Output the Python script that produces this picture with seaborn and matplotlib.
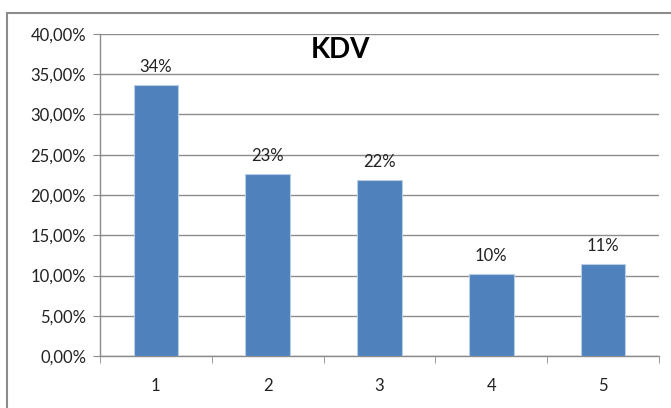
import matplotlib
matplotlib.use("Agg")
import matplotlib.pyplot as plt
import seaborn as sns
import pandas as pd
from matplotlib.lines import Line2D
from matplotlib.ticker import FuncFormatter, MultipleLocator

# Data.
categories = ["1", "2", "3", "4", "5"]
shares = [33.7, 22.6, 21.9, 10.2, 11.5]
bar_labels = ["34%", "23%", "22%", "10%", "11%"]

df = pd.DataFrame({"category": categories, "share": shares})

sns.set_style("white")
plt.rcParams["font.family"] = ["Lato", "DejaVu Sans"]

fig = plt.figure(figsize=(6.71, 4.08), dpi=100)
ax = fig.add_axes([0.149, 0.127, 0.833, 0.790])

sns.barplot(data=df, x="category", y="share", color="#4F81BD", saturation=1,
            width=0.4, edgecolor="#B9CDE5", linewidth=0.8, ax=ax, zorder=3)

ax.set_ylim(0, 40)
ax.set_xlim(-0.5, 4.5)
ax.yaxis.set_major_locator(MultipleLocator(5))
ax.yaxis.set_major_formatter(FuncFormatter(lambda v, p: f"{v:.2f}%".replace(".", ",")))
ax.grid(axis="y", color="#8C8C8C", linewidth=1, zorder=0)
ax.set_xlabel("")
ax.set_ylabel("")

# Bar value labels.
for patch, lab in zip(ax.patches, bar_labels):
    ax.annotate(lab, (patch.get_x() + patch.get_width() / 2, patch.get_height()),
                xytext=(0, 7), textcoords="offset points", ha="center", va="bottom",
                fontsize=12, color="#222222")

# Axis styling.
for side in ["top", "right"]:
    ax.spines[side].set_visible(False)
for side in ["left", "bottom"]:
    ax.spines[side].set_color("#8C8C8C")
    ax.spines[side].set_linewidth(1)

ax.tick_params(axis="y", left=True, length=5, color="#8C8C8C", labelsize=12,
               labelcolor="#222222", pad=5)
ax.tick_params(axis="x", bottom=False, labelsize=12, labelcolor="#222222", pad=12)
# Category boundary ticks below x axis.
ax.set_xticks([-0.5, 0.5, 1.5, 2.5, 3.5, 4.5], minor=True)
ax.tick_params(axis="x", which="minor", bottom=True, length=5, color="#8C8C8C", direction="out")

# Title inside the plot area.
ax.text(0.43, 0.95, "KDV", transform=ax.transAxes, ha="center", va="center",
        fontsize=20, fontweight="bold", color="black")

# Outer chart frame (only left and top edges are visible).
fig.add_artist(Line2D([7 / 671, 7 / 671], [0, 1 - 13 / 408], transform=fig.transFigure,
                      color="#8C8C8C", linewidth=1.5))
fig.add_artist(Line2D([7 / 671, 1], [1 - 13 / 408, 1 - 13 / 408], transform=fig.transFigure,
                      color="#8C8C8C", linewidth=1.5))

fig.savefig("out.png", dpi=100)
